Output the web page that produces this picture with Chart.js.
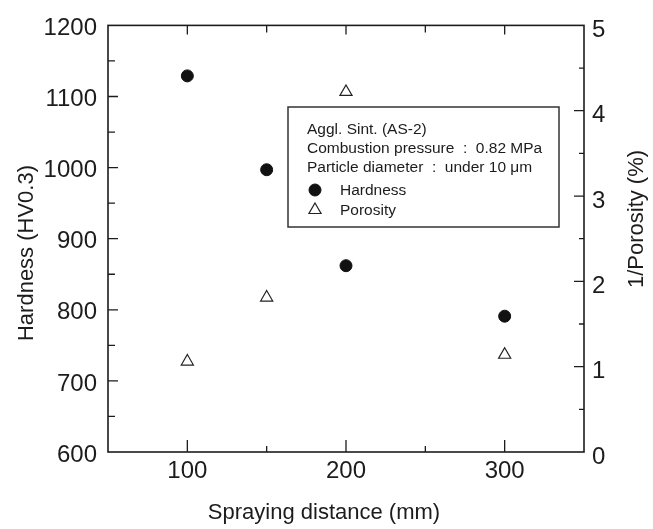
<!DOCTYPE html>
<html>
<head>
<meta charset="utf-8">
<script src="https://cdn.jsdelivr.net/npm/chart.js@4/dist/chart.umd.min.js"></script>
<style>
    html, body { margin: 0; padding: 0; background: #fff; }
    #wrap { width: 653px; height: 529px; position: relative; }
</style>
</head>
<body>
<div id="wrap"><canvas id="chart" width="653" height="529"></canvas></div>
<script>
    // data
    const distances = [100, 150, 200, 300];
    const hardness = [1129, 997, 862, 791];
    const porosity = [1.06, 1.81, 4.22, 1.14];
    const xTickValues = [100, 200, 300];
    const legendNotes = ['Aggl. Sint. (AS-2)', 'Combustion pressure  :  0.82 MPa', 'Particle diameter  :  under 10 \u03bcm'];
    const seriesNames = ['Hardness', 'Porosity'];
    const xTitle = 'Spraying distance (mm)';
    const yTitle = 'Hardness (HV0.3)';
    const y2Title = '1/Porosity (%)';

    const FONT = "'Liberation Sans', Arial, sans-serif";
    const INK = '#1c1c1c';

    const toPoints = (vals) => distances.map((d, i) => ({ x: d, y: vals[i] }));
    const plain = (v) => String(v);

    // frame, inward ticks, axis titles and the boxed legend
    const framePlugin = {
        id: 'framePlugin',
        afterDatasetsDraw(chart) {
            const { ctx, chartArea: a, scales } = chart;
            ctx.save();
            ctx.strokeStyle = INK;
            ctx.lineWidth = 1.6;
            ctx.strokeRect(a.left, a.top, a.right - a.left, a.bottom - a.top);

            ctx.lineWidth = 1.3;
            ctx.beginPath();
            for (let v = 100; v <= 300; v += 50) {
                const px = scales.x.getPixelForValue(v);
                const major = v % 100 === 0;
                ctx.moveTo(px, a.bottom);
                ctx.lineTo(px, a.bottom - (major ? 12 : 6));
                ctx.moveTo(px, a.top);
                ctx.lineTo(px, a.top + (major ? 9 : 7));
            }
            for (let v = 650; v < 1200; v += 50) {
                const py = scales.y.getPixelForValue(v);
                ctx.moveTo(a.left, py);
                ctx.lineTo(a.left + (v % 100 === 0 ? 10 : 7), py);
            }
            for (let v = 0.5; v < 5; v += 0.5) {
                const py = scales.y1.getPixelForValue(v);
                ctx.moveTo(a.right, py);
                ctx.lineTo(a.right - (v % 1 === 0 ? 10 : 5), py);
            }
            ctx.stroke();

            // axis titles
            ctx.fillStyle = INK;
            ctx.font = '22px ' + FONT;
            ctx.textAlign = 'center';
            ctx.textBaseline = 'alphabetic';
            ctx.fillText(xTitle, 324, 519);

            ctx.textBaseline = 'middle';
            ctx.save();
            ctx.translate(27, 253);
            ctx.rotate(-Math.PI / 2);
            ctx.fillText(yTitle, 0, 0);
            ctx.restore();
            ctx.save();
            ctx.translate(637, 219);
            ctx.rotate(-Math.PI / 2);
            ctx.fillText(y2Title, 0, 0);
            ctx.restore();

            // legend box
            ctx.lineWidth = 1.5;
            ctx.strokeStyle = '#333';
            ctx.strokeRect(288, 107, 271, 120);
            ctx.font = '15.5px ' + FONT;
            ctx.textAlign = 'left';
            ctx.textBaseline = 'alphabetic';
            const noteBase = [134, 153, 172];
            legendNotes.forEach((t, i) => ctx.fillText(t, 307, noteBase[i]));

            const ds = chart.data.datasets;
            const rowY = [190, 210];
            ds.forEach((d, i) => {
                ctx.fillStyle = d.backgroundColor;
                ctx.strokeStyle = d.borderColor;
                ctx.lineWidth = d.borderWidth;
                Chart.helpers.drawPoint(ctx, {
                    pointStyle: d.pointStyle,
                    radius: d.pointRadius,
                    rotation: 0,
                    borderWidth: d.borderWidth
                }, 315, rowY[i]);
                ctx.fillStyle = INK;
                ctx.fillText(seriesNames[i], 340, rowY[i] + 5);
            });
            ctx.restore();
        }
    };

    new Chart(document.getElementById('chart'), {
        type: 'scatter',
        data: {
            datasets: [{
                label: seriesNames[0],
                data: toPoints(hardness),
                yAxisID: 'y',
                pointStyle: 'circle',
                pointRadius: 6,
                backgroundColor: '#111',
                borderColor: '#111',
                borderWidth: 1
            }, {
                label: seriesNames[1],
                data: toPoints(porosity),
                yAxisID: 'y1',
                pointStyle: 'triangle',
                pointRadius: 7,
                backgroundColor: '#fff',
                borderColor: '#222',
                borderWidth: 1.2
            }]
        },
        options: {
            responsive: false,
            animation: false,
            devicePixelRatio: 1,
            layout: { padding: { top: 16 } },
            plugins: { legend: { display: false }, tooltip: { enabled: false } },
            scales: {
                x: {
                    type: 'linear',
                    min: 50, max: 350,
                    afterBuildTicks: (s) => { s.ticks = xTickValues.map(v => ({ value: v })); },
                    afterFit: (s) => { s.height = 77; },
                    grid: { display: false, drawTicks: false },
                    border: { display: false },
                    ticks: { color: INK, font: { family: FONT, size: 24 }, padding: 5, maxRotation: 0, callback: plain }
                },
                y: {
                    position: 'left',
                    min: 600, max: 1200,
                    afterFit: (s) => { s.width = 108; },
                    grid: { display: false, drawTicks: false },
                    border: { display: false },
                    ticks: { stepSize: 100, color: INK, font: { family: FONT, size: 24 }, padding: 11, labelOffset: 3, callback: plain }
                },
                y1: {
                    position: 'right',
                    min: 0, max: 5,
                    afterFit: (s) => { s.width = 69; },
                    grid: { display: false, drawTicks: false },
                    border: { display: false },
                    ticks: { stepSize: 1, color: INK, font: { family: FONT, size: 24 }, padding: 8, labelOffset: 5, callback: plain }
                }
            }
        },
        plugins: [framePlugin]
    });
</script>
</body>
</html>
